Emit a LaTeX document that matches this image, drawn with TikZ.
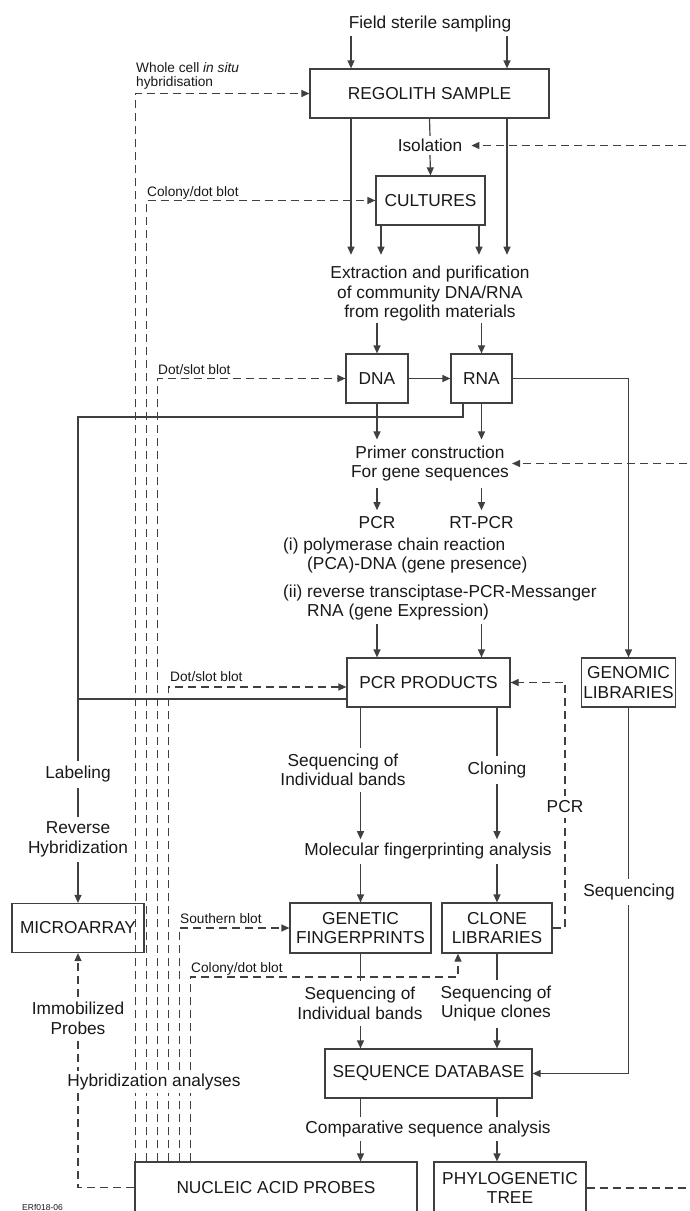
\documentclass[tikz,border=0pt]{standalone}
\usepackage{fontspec}
\setmainfont{Liberation Sans}
\usetikzlibrary{arrows.meta}
\newcommand{\fbig}{\fontsize{17.3}{19.5}\selectfont}
\newcommand{\fsmall}{\fontsize{13.7}{14}\selectfont}
\newcommand{\ftiny}{\fontsize{8.5}{9}\selectfont}
\definecolor{lncol}{gray}{0.25}
\definecolor{txcol}{gray}{0.1}
\tikzset{
  ln/.style={draw=lncol, line width=1.2pt},
  arr/.style={ln, -{Triangle[length=8pt,width=7pt]}},
  dsh/.style={ln, dash pattern=on 8pt off 5pt},
  darr/.style={dsh, -{Triangle[length=8pt,width=7pt]}},
  box/.style={draw=lncol, line width=1.2pt, minimum height=49pt, inner sep=0pt, align=center, font=\fbig, text=txcol},
  txt/.style={align=center, inner xsep=3pt, inner ysep=5pt, font=\fbig, text=txcol},
  cover/.style={txt, fill=white},
  lbl/.style={anchor=base west, inner sep=0pt, font=\fsmall, text=txcol},
  note/.style={anchor=base west, inner xsep=0pt, inner ysep=4pt, font=\fbig, text=txcol},
}
\begin{document}
\begin{tikzpicture}[x=1pt,y=-1pt]
\useasboundingbox (0,0) rectangle (689,1211);
\fill[white] (0,0) rectangle (689,1211);
\clip (0,0) rectangle (689,1211);

% helper coordinates
\coordinate (xa) at (351,0);
\coordinate (xb) at (507,0);
\coordinate (xc) at (381,0);
\coordinate (xd) at (479,0);
\coordinate (lk) at (78,417);
\coordinate (lp) at (78,699);
\coordinate (k6) at (458,977);
\coordinate (kp) at (565,800);
\coordinate (rc) at (700,600);

% main nodes
\node[txt, inner ysep=3pt] (fss) at (430,24.5) {Field sterile sampling};
\node[box, minimum width=239pt] (reg) at (429.5,93.5) {REGOLITH SAMPLE};
\node[txt, inner ysep=3pt] (iso) at (430,145.5) {Isolation};
\node[box, minimum width=109pt] (cul) at (430.5,200.5) {CULTURES};
\node[txt, inner ysep=1.5pt] (ext) at (430,294) {Extraction and purification\\of community DNA/RNA\\from regolith materials};
\node[box, minimum width=62pt] (dna) at (377,378.5) {DNA};
\node[box, minimum width=61pt] (rna) at (481.5,378.5) {RNA};
\node[txt, inner ysep=6pt] (primer) at (430,463.5) {Primer construction\\For gene sequences};
\node[txt, inner ysep=6pt] (pcr) at (377,522.5) {PCR};
\node[txt, inner ysep=6pt] (rtpcr) at (481.5,522.5) {RT-PCR};
\node[note] (ia) at (283,550) {(i) polymerase chain reaction};
\node[note] (ib) at (307,569) {(PCA)-DNA (gene presence)};
\node[note] (iia) at (283,597) {(ii) reverse transciptase-PCR-Messanger};
\node[note] (iib) at (307,616) {RNA (gene Expression)};
\node[box, minimum width=163pt] (pcrp) at (428.5,682.5) {PCR PRODUCTS};
\node[box, minimum width=94pt] (gen) at (628.5,682.5) {GENOMIC\\LIBRARIES};
\node[txt, inner ysep=6pt] (seqind1) at (343,770) {Sequencing of\\Individual bands};
\node[txt, inner ysep=6pt] (cloning) at (497,770) {Cloning};
\node[txt, inner ysep=4pt] (mfa) at (428,851.5) {Molecular fingerprinting analysis};
\node[box, minimum width=132pt] (micro) at (78,928) {MICROARRAY};
\node[box, minimum width=141pt, minimum height=50pt] (gf) at (360.5,928) {GENETIC\\FINGERPRINTS};
\node[box, minimum width=110pt, minimum height=50pt] (cl) at (497,928) {CLONE\\LIBRARIES};
\node[txt, inner ysep=6pt] (seqind2) at (360,1003.5) {Sequencing of\\Individual bands};
\node[txt, inner ysep=6pt] (sequniq) at (496,1003.5) {Sequencing of\\Unique clones};
\node[box, minimum width=207pt] (sd) at (428.5,1073.5) {SEQUENCE DATABASE};
\node[txt, inner ysep=4pt] (csa) at (428,1129) {Comparative sequence analysis};
\node[box, minimum width=282pt, minimum height=51pt] (nap) at (276,1187.5) {NUCLEIC ACID PROBES};
\node[box, minimum width=152pt, minimum height=52pt] (pt) at (510,1188) {PHYLOGENETIC\\TREE};

% small labels
\node[lbl, anchor=south west, align=left] (wc) at (136,90) {Whole cell \textit{in situ}\\hybridisation};
\node[lbl] (cd1) at (147,196) {Colony/dot blot};
\node[lbl] (ds1) at (158,374) {Dot/slot blot};
\node[lbl] (ds2) at (170,681) {Dot/slot blot};
\node[lbl] (sb) at (180,923) {Southern blot};
\node[lbl] (cd2) at (191,972) {Colony/dot blot};
\node[lbl, font=\ftiny] (code) at (22,1210) {ERf018-06};

% dashed probe lines
\coordinate (v1) at ([xshift=1pt]nap.north west);
\coordinate (v2) at ([xshift=12pt]nap.north west);
\coordinate (v3) at ([xshift=23pt]nap.north west);
\coordinate (v4) at ([xshift=34pt]nap.north west);
\coordinate (v5) at ([xshift=45pt]nap.north west);
\coordinate (v6) at ([xshift=56pt]nap.north west);
\draw[darr] (v1) |- (reg.west);
\draw[darr] (v2) |- (cul.west);
\draw[darr] (v3) |- (dna.west);
\draw[darr] (v4) |- ([yshift=-4.5pt]pcrp.west);
\draw[darr] (v5) |- (gf.west);
\draw[darr] (v6) |- (k6) -- (k6 |- cl.south);

% solid connectors
\draw[arr] (fss.south -| xa) -- (reg.north -| xa);
\draw[arr] (fss.south -| xb) -- (reg.north -| xb);
\draw[ln] (reg.south) -- (iso.north);
\draw[arr] (iso.south) -- (cul.north);
\draw[arr, shorten >=10pt] (reg.south -| xa) -- (ext.north -| xa);
\draw[arr, shorten >=10pt] (reg.south -| xb) -- (ext.north -| xb);
\draw[arr, shorten >=10pt] (cul.south -| xc) -- (ext.north -| xc);
\draw[arr, shorten >=10pt] (cul.south -| xd) -- (ext.north -| xd);
\draw[arr] (ext.south -| dna.north) -- (dna.north);
\draw[arr] (ext.south -| rna.north) -- (rna.north);
\draw[arr] (dna.east) -- (rna.west);
\draw[arr] (rna.east) -| (gen.north);
\draw[arr] ([xshift=-18.5pt]rna.south) |- (lk) -- (micro.north);
\draw[ln] ([yshift=-16.5pt]pcrp.west) -- (lp);
\draw[arr] (dna.south) -- (primer.north -| dna.south);
\draw[arr] (rna.south) -- (primer.north -| rna.south);
\draw[arr] (primer.south -| pcr.north) -- (pcr.north);
\draw[arr] (primer.south -| rtpcr.north) -- (rtpcr.north);
\draw[arr] (iib.south -| dna.south) -- (pcrp.north -| dna.south);
\draw[arr] (iib.south -| rna.south) -- (pcrp.north -| rna.south);
\draw[ln] (pcrp.south -| gf.north) -- (seqind1.north -| gf.north);
\draw[ln] (pcrp.south -| cl.north) -- (cloning.north);
\draw[arr] (seqind1.south -| gf.north) -- (mfa.north -| gf.north);
\draw[arr] (cloning.south) -- (mfa.north -| cl.north);
\draw[arr] (mfa.south -| gf.north) -- (gf.north);
\draw[arr] (mfa.south -| cl.north) -- (cl.north);
\draw[ln] (gf.south) -- (seqind2.north -| gf.south);
\draw[ln] (cl.south) -- (sequniq.north -| cl.south);
\draw[arr] (seqind2.south -| gf.south) -- (sd.north -| gf.south);
\draw[arr] (sequniq.south -| cl.south) -- (sd.north -| cl.south);
\draw[arr] (gen.south) |- (sd.east);
\draw[ln] (sd.south -| gf.south) -- (csa.north -| gf.south);
\draw[ln] (sd.south -| cl.south) -- (csa.north -| cl.south);
\draw[arr] (csa.south -| gf.south) -- (nap.north -| gf.south);
\draw[arr] (csa.south -| cl.south) -- (pt.north -| cl.south);

% dashed feedback connectors
\draw[darr, shorten >=6pt] (pt.east) -| (rc) |- (iso.east);
\draw[darr] (primer.east -| rc) -- (primer.east);
\draw[darr] (cl.east) -| (kp) |- (pcrp.east);
\draw[darr] (nap.west) -| (micro.south);

% labels sitting on lines
\node[cover] (lab) at (78,774.5) {Labeling};
\node[cover] (revhyb) at (78,839.5) {Reverse\\Hybridization};
\node[cover] (pcrlab) at (565,807) {PCR};
\node[cover] (seqlab) at (629,892) {Sequencing};
\node[cover] (immob) at (78,1018.5) {Immobilized\\Probes};
\node[cover, inner ysep=3pt] (hyb) at (154,1082) {Hybridization analyses};
\end{tikzpicture}
\end{document}
